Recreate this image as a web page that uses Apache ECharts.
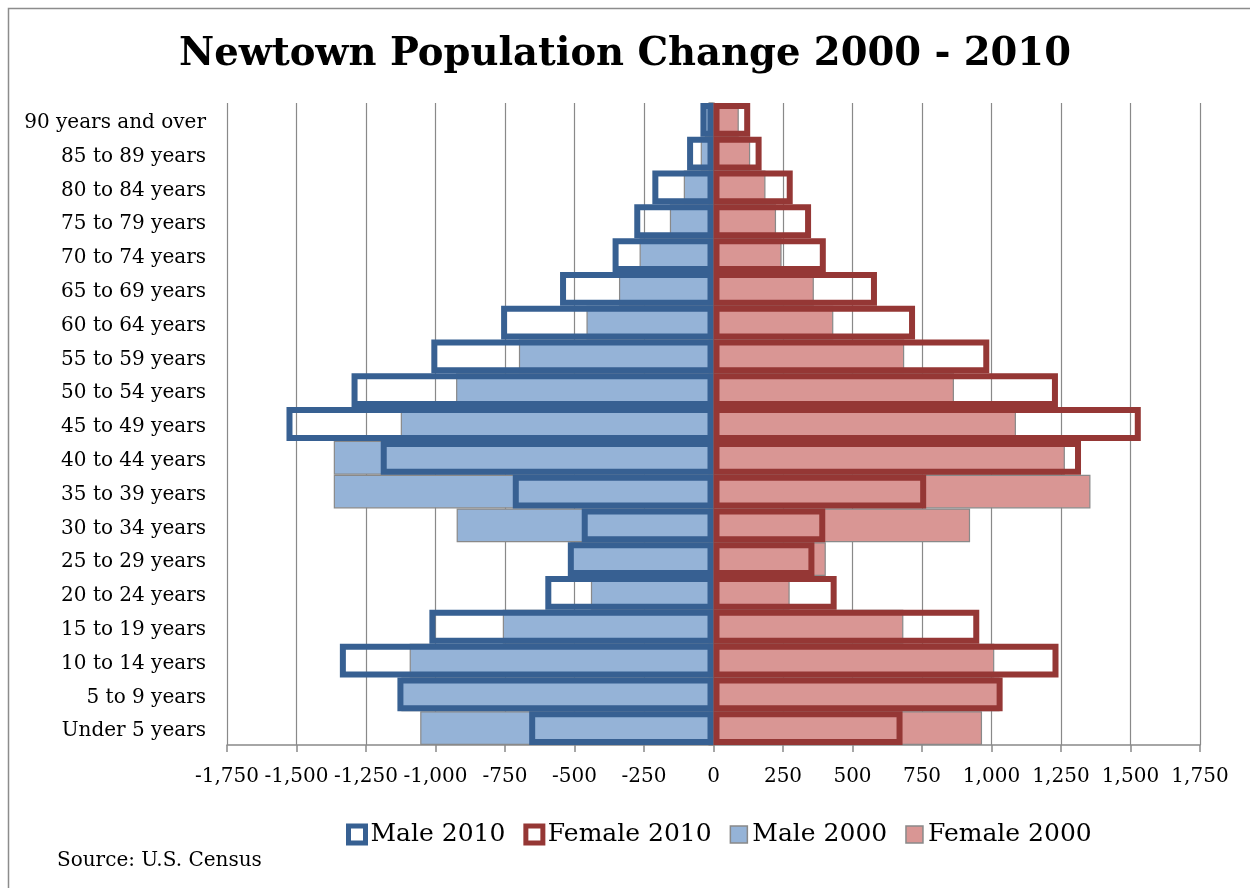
<!DOCTYPE html>
<html>
<head>
<meta charset="utf-8">
<script src="https://cdn.jsdelivr.net/npm/echarts@6/dist/echarts.min.js"></script>
<style>
html,body{margin:0;padding:0;background:#fff;}
#chart{width:1250px;height:888px;}
</style>
</head>
<body>
<div id="chart"></div>
<script>
// Categories, top to bottom
var categories = ['90 years and over','85 to 89 years','80 to 84 years','75 to 79 years','70 to 74 years','65 to 69 years','60 to 64 years','55 to 59 years','50 to 54 years','45 to 49 years','40 to 44 years','35 to 39 years','30 to 34 years','25 to 29 years','20 to 24 years','15 to 19 years','10 to 14 years','5 to 9 years','Under 5 years'];
var male2010 = [-47,-95,-220,-285,-363,-552,-764,-1015,-1302,-1536,-1197,-722,-474,-524,-605,-1022,-1344,-1137,-663];
var male2000 = [-31,-46,-107,-157,-266,-340,-457,-700,-926,-1125,-1366,-1366,-924,-515,-441,-758,-1093,-1123,-1055];
var female2010 = [132,173,285,351,404,588,725,992,1239,1537,1322,765,402,363,443,956,1241,1040,680];
var female2000 = [91,132,187,225,245,361,431,686,865,1088,1264,1356,923,404,274,683,1010,1029,966];
var xTicks = {min:-1750, max:1750, step:250};
var titleText = 'Newtown Population Change 2000 - 2010';
var sourceText = 'Source: U.S. Census';

function fmt(v){
  var s = String(Math.abs(v));
  var out = '';
  while (s.length > 3) { out = ',' + s.slice(-3) + out; s = s.slice(0, -3); }
  out = s + out;
  return (v < 0 ? '-' : '') + out;
}

var FONT = 'DejaVu Serif';
var C_M10 = '#376092', C_F10 = '#953735', C_M00 = '#95b3d7', C_F00 = '#d99694', C_GR = '#898989';

var chart = echarts.init(document.getElementById('chart'), null, {renderer:'canvas'});
chart.setOption({
  animation:false,
  backgroundColor:'#fff',
  title:{
    text:titleText,
    left:'center', top:30,
    textStyle:{fontFamily:FONT, fontWeight:'bold', fontSize:38.5, color:'#000'}
  },
  graphic:[
    {type:'rect', shape:{x:8.5,y:8.5,width:1400,height:1000}, style:{fill:'none', stroke:'#8c8c8c', lineWidth:1.5}, silent:true},
    {type:'text', left:57, top:851, style:{text:sourceText, font:'20px "DejaVu Serif"', fill:'#000'}, silent:true}
  ],
  legend:{
    left:341, top:817,
    itemWidth:17, itemHeight:17, itemGap:18,
    textStyle:{fontFamily:FONT, fontSize:25, color:'#000'},
    data:[
      {name:'Male 2010', icon:'rect', itemStyle:{color:'#fff', borderColor:C_M10, borderWidth:5}},
      {name:'Female 2010', icon:'rect', itemStyle:{color:'#fff', borderColor:C_F10, borderWidth:5}},
      {name:'Male 2000', icon:'rect', itemStyle:{color:C_M00, borderColor:C_GR, borderWidth:1.5}},
      {name:'Female 2000', icon:'rect', itemStyle:{color:C_F00, borderColor:C_GR, borderWidth:1.5}}
    ]
  },
  grid:{left:227, right:50, top:103, bottom:143, containLabel:false},
  xAxis:{
    type:'value', min:xTicks.min, max:xTicks.max, interval:xTicks.step,
    axisLine:{show:true, onZero:false, lineStyle:{color:C_GR, width:1.5}},
    axisTick:{show:true, length:7, lineStyle:{color:C_GR, width:1.5}},
    splitLine:{show:true, lineStyle:{color:C_GR, width:1.2}},
    axisLabel:{fontFamily:FONT, fontSize:20, color:'#000', margin:22, formatter:fmt}
  },
  yAxis:[
    {
      type:'category', data:categories, inverse:true, position:'left',
      axisLine:{show:false, onZero:false}, axisTick:{show:false},
      axisLabel:{fontFamily:FONT, fontSize:20, color:'#000', margin:21, lineHeight:26, verticalAlign:'top', padding:[-10,0,0,0]}
    },
    {
      type:'category', data:categories, inverse:true, position:'left',
      axisLine:{show:true, onZero:true, lineStyle:{color:C_GR, width:1.5}},
      axisTick:{show:true, length:5, lineStyle:{color:C_GR, width:1.5}},
      axisLabel:{show:false}
    }
  ],
  series:[
    {name:'Male 2000', type:'bar', data:male2000, barGap:'-100%', barCategoryGap:'0%',
     itemStyle:{color:C_M00, borderColor:C_GR, borderWidth:1.2}},
    {name:'Female 2000', type:'bar', data:female2000, barGap:'-100%', barCategoryGap:'0%',
     itemStyle:{color:C_F00, borderColor:C_GR, borderWidth:1.2}},
    {name:'Male 2010', type:'bar', data:male2010, barGap:'-100%', barCategoryGap:'0%',
     itemStyle:{color:'rgba(0,0,0,0)', borderColor:C_M10, borderWidth:6}},
    {name:'Female 2010', type:'bar', data:female2010, barGap:'-100%', barCategoryGap:'0%',
     itemStyle:{color:'rgba(0,0,0,0)', borderColor:C_F10, borderWidth:6}}
  ]
});
</script>
</body>
</html>
